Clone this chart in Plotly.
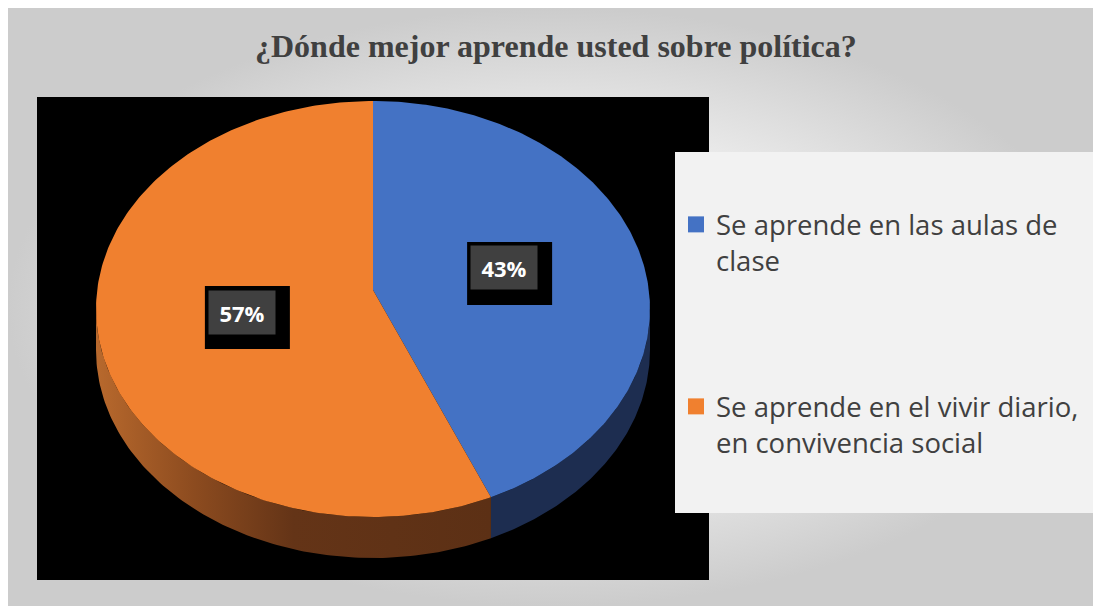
import numpy as np
import plotly.graph_objects as go

TITLE = "¿Dónde mejor aprende usted sobre política?"
CATEGORIES = ["Se aprende en las aulas de<br>clase",
              "Se aprende en el vivir diario,<br>en convivencia social"]
VALUES = [43, 57]

TOP_COLORS = ["#4472C4", "#F0802F"]
SIDE_COLORS = ["#1D2D50", None]
ORANGE_SIDE_SCALE = [[0, "#B8692D"], [0.25, "#8C4B1F"], [0.5, "#643417"], [1, "#5C3015"]]
TEXT_COLOR = "#404040"

# the page body has an 8px margin; all positions below are page pixels
OFF = 8
FW, FH = 1093, 598
PLOT_X = (37, 709)
PLOT_Y = (97, 580)
CX, CY = 373, 309
RX, RY = 277, 208
APEX_Y = 290
DEPTH = 41
LABEL_F = 0.485


def px(x):
    return (x - OFF) / FW


def py(y):
    return 1 - (y - OFF) / FH


def ellipse_pts(t_deg, dy=0):
    t = np.radians(t_deg)
    return CX + RX * np.cos(t), CY - RY * np.sin(t) + dy


fig = go.Figure()

# background gradient over the whole page
fig.add_trace(go.Scatter(
    x=[OFF, OFF + FW, OFF + FW, OFF, OFF], y=[OFF, OFF, OFF + FH, OFF + FH, OFF],
    mode="lines", fill="toself", line=dict(width=0),
    fillgradient=dict(type="radial", colorscale=[[0, "#FFFFFF"], [0.45, "#F3F3F3"], [1, "#CCCCCC"]]),
    hoverinfo="skip", showlegend=False, xaxis="x", yaxis="y"))

total = sum(VALUES)
start = 90.0
label_pos = []
for i, v in enumerate(VALUES):
    sweep = 360.0 * v / total
    t0, t1 = start, start - sweep
    # side wall (front half only)
    for lo_base in (-360, 0):
        lo, hi = max(t1, lo_base - 180), min(t0, lo_base)
        if hi > lo:
            ts = np.linspace(hi, lo, 120)
            xa, ya = ellipse_pts(ts)
            xb, yb = ellipse_pts(ts[::-1], DEPTH)
            xs = np.concatenate([xa, xb, xa[:1]])
            ys = np.concatenate([ya, yb, ya[:1]])
            kw = dict(fillcolor=SIDE_COLORS[i]) if SIDE_COLORS[i] else dict(
                fillgradient=dict(type="horizontal", colorscale=ORANGE_SIDE_SCALE))
            fig.add_trace(go.Scatter(x=xs, y=ys, mode="lines", fill="toself",
                                     line=dict(width=0), hoverinfo="skip", showlegend=False,
                                     xaxis="x2", yaxis="y2", **kw))
    # top face
    ts = np.linspace(t0, t1, 240)
    xa, ya = ellipse_pts(ts)
    xs = np.concatenate([[CX], xa, [CX]])
    ys = np.concatenate([[APEX_Y], ya, [APEX_Y]])
    fig.add_trace(go.Scatter(x=xs, y=ys, mode="lines", fill="toself", fillcolor=TOP_COLORS[i],
                             line=dict(width=0), hoverinfo="skip", showlegend=False,
                             xaxis="x2", yaxis="y2"))
    tm = np.radians((t0 + t1) / 2)
    label_pos.append((CX + LABEL_F * RX * np.cos(tm), APEX_Y - LABEL_F * RY * np.sin(tm),
                      f"{round(100 * v / total)}%"))
    start = t1

# legend entries
for i, name in enumerate(CATEGORIES):
    fig.add_trace(go.Scatter(x=[None], y=[None], mode="markers", name=name,
                             marker=dict(symbol="square", size=16, color=TOP_COLORS[i]),
                             legend="legend" if i == 0 else "legend2",
                             xaxis="x2", yaxis="y2"))

shapes = [
    dict(type="rect", xref="x2", yref="y2", x0=PLOT_X[0], x1=PLOT_X[1], y0=PLOT_Y[0], y1=PLOT_Y[1],
         fillcolor="black", line=dict(width=0), layer="below"),
    dict(type="rect", xref="paper", yref="paper", x0=px(675), x1=px(1096),
         y0=py(513), y1=py(152), fillcolor="#F2F2F2", line=dict(width=0), layer="above"),
]
annotations = []
for x, y, txt in label_pos:
    shapes.append(dict(type="rect", xref="x2", yref="y2", x0=x - 37, x1=x + 48, y0=y - 26, y1=y + 37,
                       fillcolor="black", line=dict(width=0), layer="above"))
    annotations.append(dict(x=x, y=y, xref="x2", yref="y2", text=f"<b>{txt}</b>", showarrow=False,
                            width=64, height=41, bgcolor="#404040",
                            font=dict(family="Open Sans", size=22, color="white")))

annotations.append(dict(x=px(556), y=py(46), xref="paper", yref="paper", text=f"<b>{TITLE}</b>",
                        showarrow=False, xanchor="center", yanchor="middle",
                        font=dict(family="Liberation Serif", size=32, color=TEXT_COLOR)))

legend_style = dict(xanchor="left", yanchor="top", bgcolor="rgba(0,0,0,0)", valign="top",
                    font=dict(family="Open Sans", size=27.5, color=TEXT_COLOR))

fig.update_layout(
    width=FW, height=FH,
    margin=dict(l=0, r=0, t=0, b=0),
    paper_bgcolor="#D9D9D9", plot_bgcolor="rgba(0,0,0,0)",
    xaxis=dict(domain=[0, 1], range=[OFF, OFF + FW], visible=False),
    yaxis=dict(domain=[0, 1], range=[OFF + FH, OFF], visible=False),
    xaxis2=dict(domain=[px(PLOT_X[0]), px(PLOT_X[1])], range=list(PLOT_X), visible=False, anchor="y2"),
    yaxis2=dict(domain=[py(PLOT_Y[1]), py(PLOT_Y[0])], range=[PLOT_Y[1], PLOT_Y[0]],
                visible=False, anchor="x2"),
    legend=dict(x=px(676), y=py(200), **legend_style),
    legend2=dict(x=px(676), y=py(382), **legend_style),
    shapes=shapes,
    annotations=annotations,
)

fig.write_html("out.html")
